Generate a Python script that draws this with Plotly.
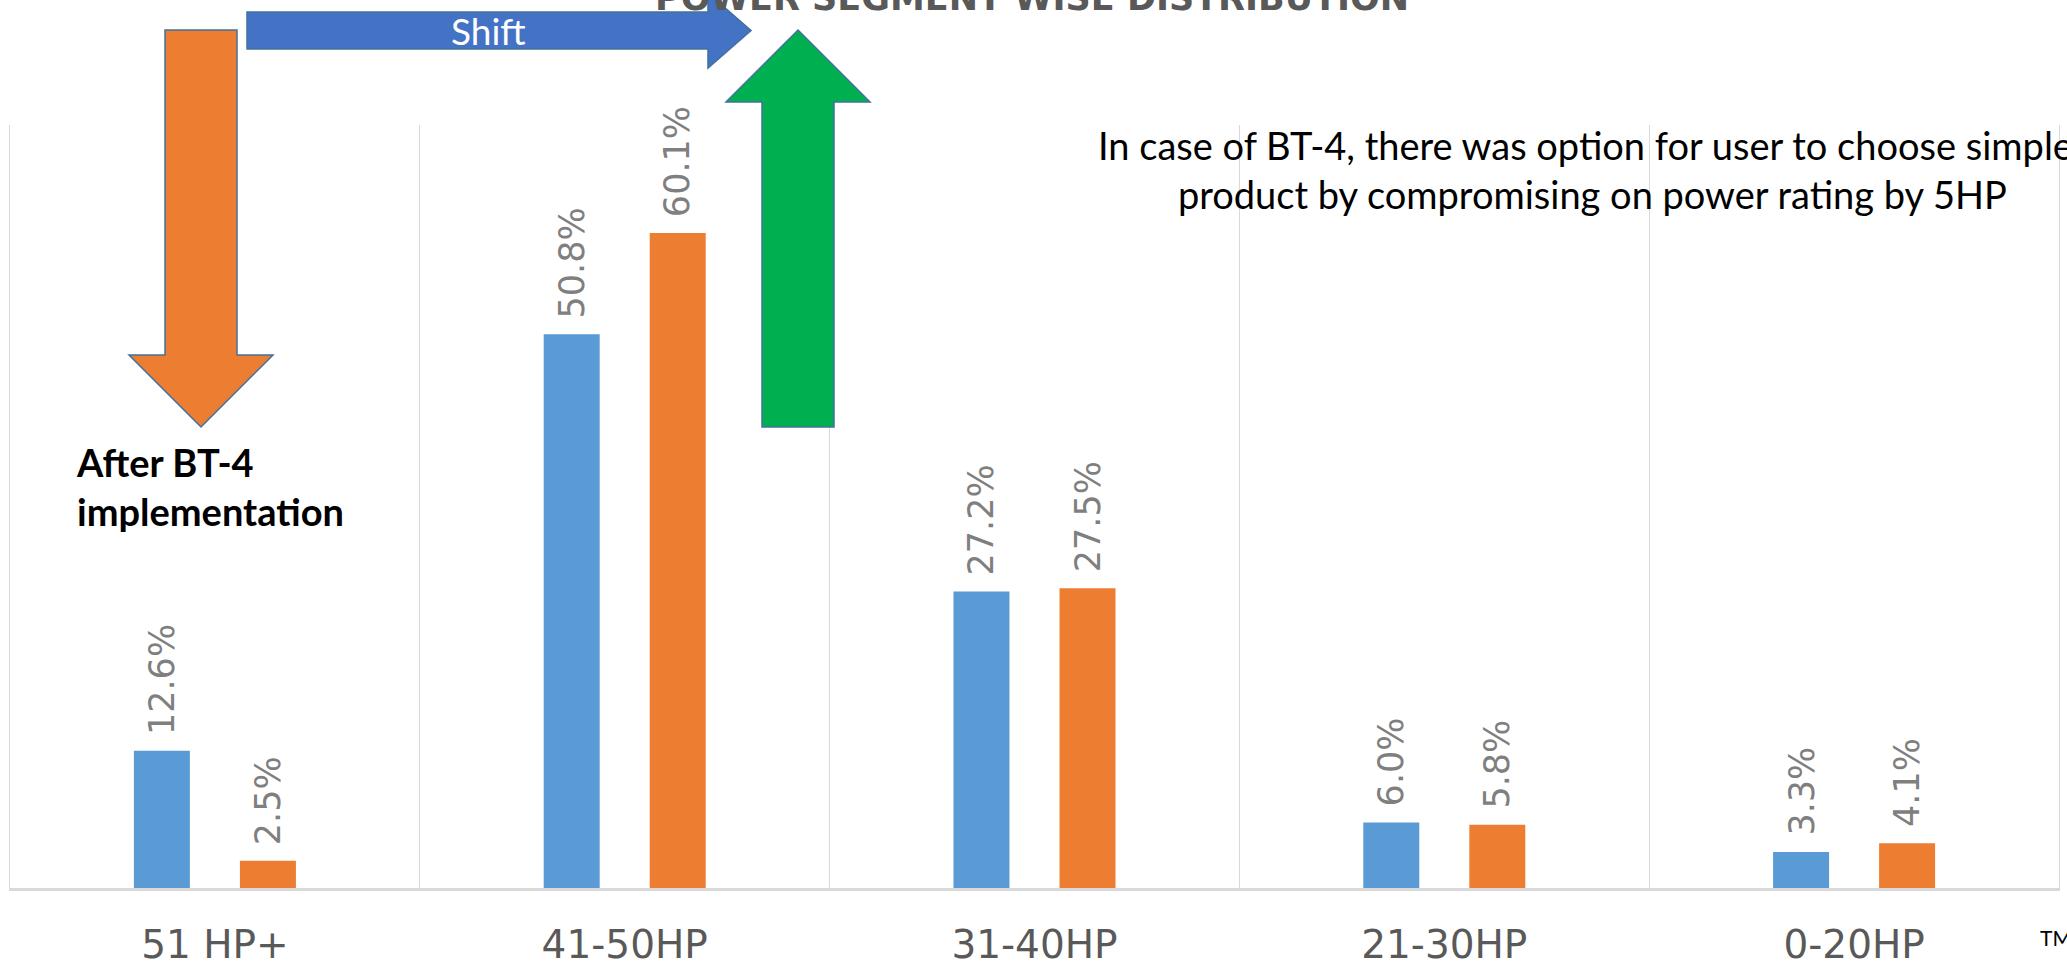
import plotly.graph_objects as go

# ---- data ----
categories = ["51 HP+", "41-50HP", "31-40HP", "21-30HP", "0-20HP"]
before_bt4 = [12.6, 50.8, 27.2, 6.0, 3.3]
after_bt4 = [2.5, 60.1, 27.5, 5.8, 4.1]
series_names = ["Before BT-4", "After BT-4"]

title_text = "POWER SEGMENT WISE DISTRIBUTION"
note_text = "In case of BT-4, there was option for user to choose simpler<br>product by compromising on power rating by 5HP"
after_text = "After BT-4<br>implementation"

BLUE = "#5B9BD5"
ORANGE = "#ED7D31"
GRID = "#D9D9D9"

# ---- layout geometry (pixels) ----
W, H = 2067, 969
ML, MR, MT, MB = 10, 8, 125, 81
PW, PH = W - ML - MR, H - MT - MB
BARGAP, BARGROUPGAP = 0.4825, 0.472


def px(x):
    return (x - ML) / PW


def py(y):
    return (H - MB - y) / PH


def path(points):
    return "M " + " L ".join(f"{px(x):.5f},{py(y):.5f}" for x, y in points) + " Z"


fig = go.Figure()
fig.add_trace(go.Bar(x=categories, y=before_bt4, name=series_names[0],
                     marker=dict(color=BLUE, line=dict(width=0))))
fig.add_trace(go.Bar(x=categories, y=after_bt4, name=series_names[1],
                     marker=dict(color=ORANGE, line=dict(width=0))))

slot = (1 - BARGAP) / 2
annotations = []
for i, (b, a) in enumerate(zip(before_bt4, after_bt4)):
    for v, off in ((b, -slot / 2), (a, slot / 2)):
        annotations.append(dict(
            x=i + off, y=v, xref="x", yref="y", text=f"{v:.1f}%",
            textangle=-90, showarrow=False, xanchor="center", yanchor="bottom",
            yshift=14, font=dict(family="DejaVu Sans", size=35, color="#7F7F7F")))

# decorative arrows (pixel geometry)
orange_down = [(165, 30), (237, 30), (237, 355), (273, 355), (201, 427), (129, 355), (165, 355)]
blue_right = [(247, 12), (708, 12), (708, -7), (751, 30.5), (708, 68), (708, 49), (247, 49)]
green_up = [(762, 427), (762, 102), (726, 102), (798, 30), (870, 102), (834, 102), (834, 427)]

shapes = [
    dict(type="path", xref="paper", yref="paper", path=path(orange_down),
         fillcolor=ORANGE, line=dict(color="#41719C", width=1.5), layer="above"),
    dict(type="path", xref="paper", yref="paper", path=path(blue_right),
         fillcolor="#4472C4", line=dict(color="#41719C", width=1.5), layer="above"),
    dict(type="path", xref="paper", yref="paper", path=path(green_up),
         fillcolor="#00B050", line=dict(color="#41719C", width=1.5), layer="above"),
]

annotations += [
    dict(x=px(1032), y=py(20), xref="paper", yref="paper", text=title_text,
         showarrow=False, xanchor="center", yanchor="bottom",
         font=dict(family="DejaVu Sans", size=35, color="#595959", weight="bold")),
    dict(x=px(488), y=py(30.5), xref="paper", yref="paper", text="Shift",
         showarrow=False, xanchor="center", yanchor="middle",
         font=dict(family="Lato", size=37, color="#FFFFFF")),
    dict(x=px(1592), y=py(120), xref="paper", yref="paper", text=note_text,
         showarrow=False, xanchor="center", yanchor="top", align="center",
         font=dict(family="Lato", size=38, color="#000000")),
    dict(x=px(74), y=py(437), xref="paper", yref="paper", text=after_text,
         showarrow=False, xanchor="left", yanchor="top", align="left",
         font=dict(family="Lato", size=38, color="#000000", weight="bold")),
    dict(x=px(2038), y=py(923), xref="paper", yref="paper", text="TM",
         showarrow=False, xanchor="left", yanchor="top",
         font=dict(family="Lato", size=21, color="#000000")),
]

fig.update_layout(
    width=W, height=H,
    margin=dict(l=ML, r=MR, t=MT, b=MB, pad=0, autoexpand=False),
    paper_bgcolor="white", plot_bgcolor="white",
    barmode="group", bargap=BARGAP, bargroupgap=BARGROUPGAP,
    showlegend=False,
    shapes=shapes, annotations=annotations,
    xaxis=dict(type="category", tickson="boundaries", showgrid=True,
               gridcolor=GRID, gridwidth=1.3, showline=True,
               linecolor=GRID, linewidth=3, ticks="",
               automargin=False, ticklabelstandoff=20,
               tickfont=dict(family="DejaVu Sans", size=39, color="#595959")),
    yaxis=dict(range=[0, 70], showgrid=False, zeroline=False, automargin=False,
               showticklabels=False, showline=True, mirror=True,
               linecolor=GRID, linewidth=1.3),
)

fig.write_html("out.html")
